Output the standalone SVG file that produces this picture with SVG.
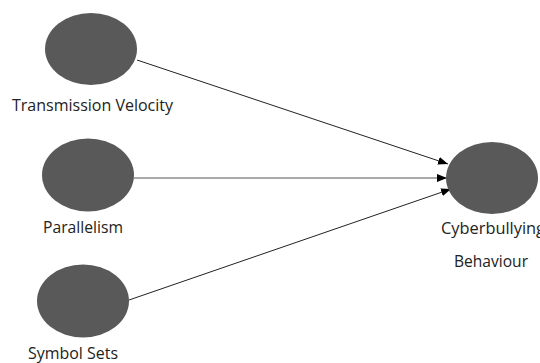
<svg xmlns="http://www.w3.org/2000/svg" width="540" height="363" viewBox="0 0 540 363">
<defs>
<marker id="arr" viewBox="0 0 10 8" refX="10" refY="4" markerWidth="10" markerHeight="8" markerUnits="userSpaceOnUse" orient="auto">
<path d="M0,0 L10,4 L0,8 Z" fill="#000"/>
</marker>
</defs>
<style>
.n{fill:#595959;}
.t{font-family:"Open Sans","Liberation Sans",sans-serif;font-size:15.5px;fill:#222;}
.c{stroke:#222;stroke-width:1;fill:none;marker-end:url(#arr);}
</style>
<rect width="540" height="363" fill="#fff"/>
<g id="connectors">
<line class="c" x1="137" y1="60" x2="448" y2="164"/>
<line class="c" x1="134" y1="178" x2="447" y2="178" style="stroke:#555"/>
<line class="c" x1="129" y1="300" x2="451" y2="189"/>
</g>
<g id="transmission-velocity">
<ellipse class="n" cx="91" cy="49" rx="46" ry="36"/>
<text class="t" x="12" y="111" textLength="161" lengthAdjust="spacingAndGlyphs">Transmission Velocity</text>
</g>
<g id="parallelism">
<ellipse class="n" cx="88" cy="175" rx="46" ry="36.5"/>
<text class="t" x="43" y="233" textLength="80" lengthAdjust="spacingAndGlyphs">Parallelism</text>
</g>
<g id="symbol-sets">
<ellipse class="n" cx="83" cy="301" rx="46" ry="36.5"/>
<text class="t" x="28" y="359" textLength="90" lengthAdjust="spacingAndGlyphs">Symbol Sets</text>
</g>
<g id="cyberbullying-behaviour">
<ellipse class="n" cx="492" cy="178" rx="46" ry="36"/>
<text class="t" x="441" y="234" textLength="104" lengthAdjust="spacingAndGlyphs">Cyberbullying</text>
<text class="t" x="454" y="267" textLength="74" lengthAdjust="spacingAndGlyphs">Behaviour</text>
</g>
</svg>
